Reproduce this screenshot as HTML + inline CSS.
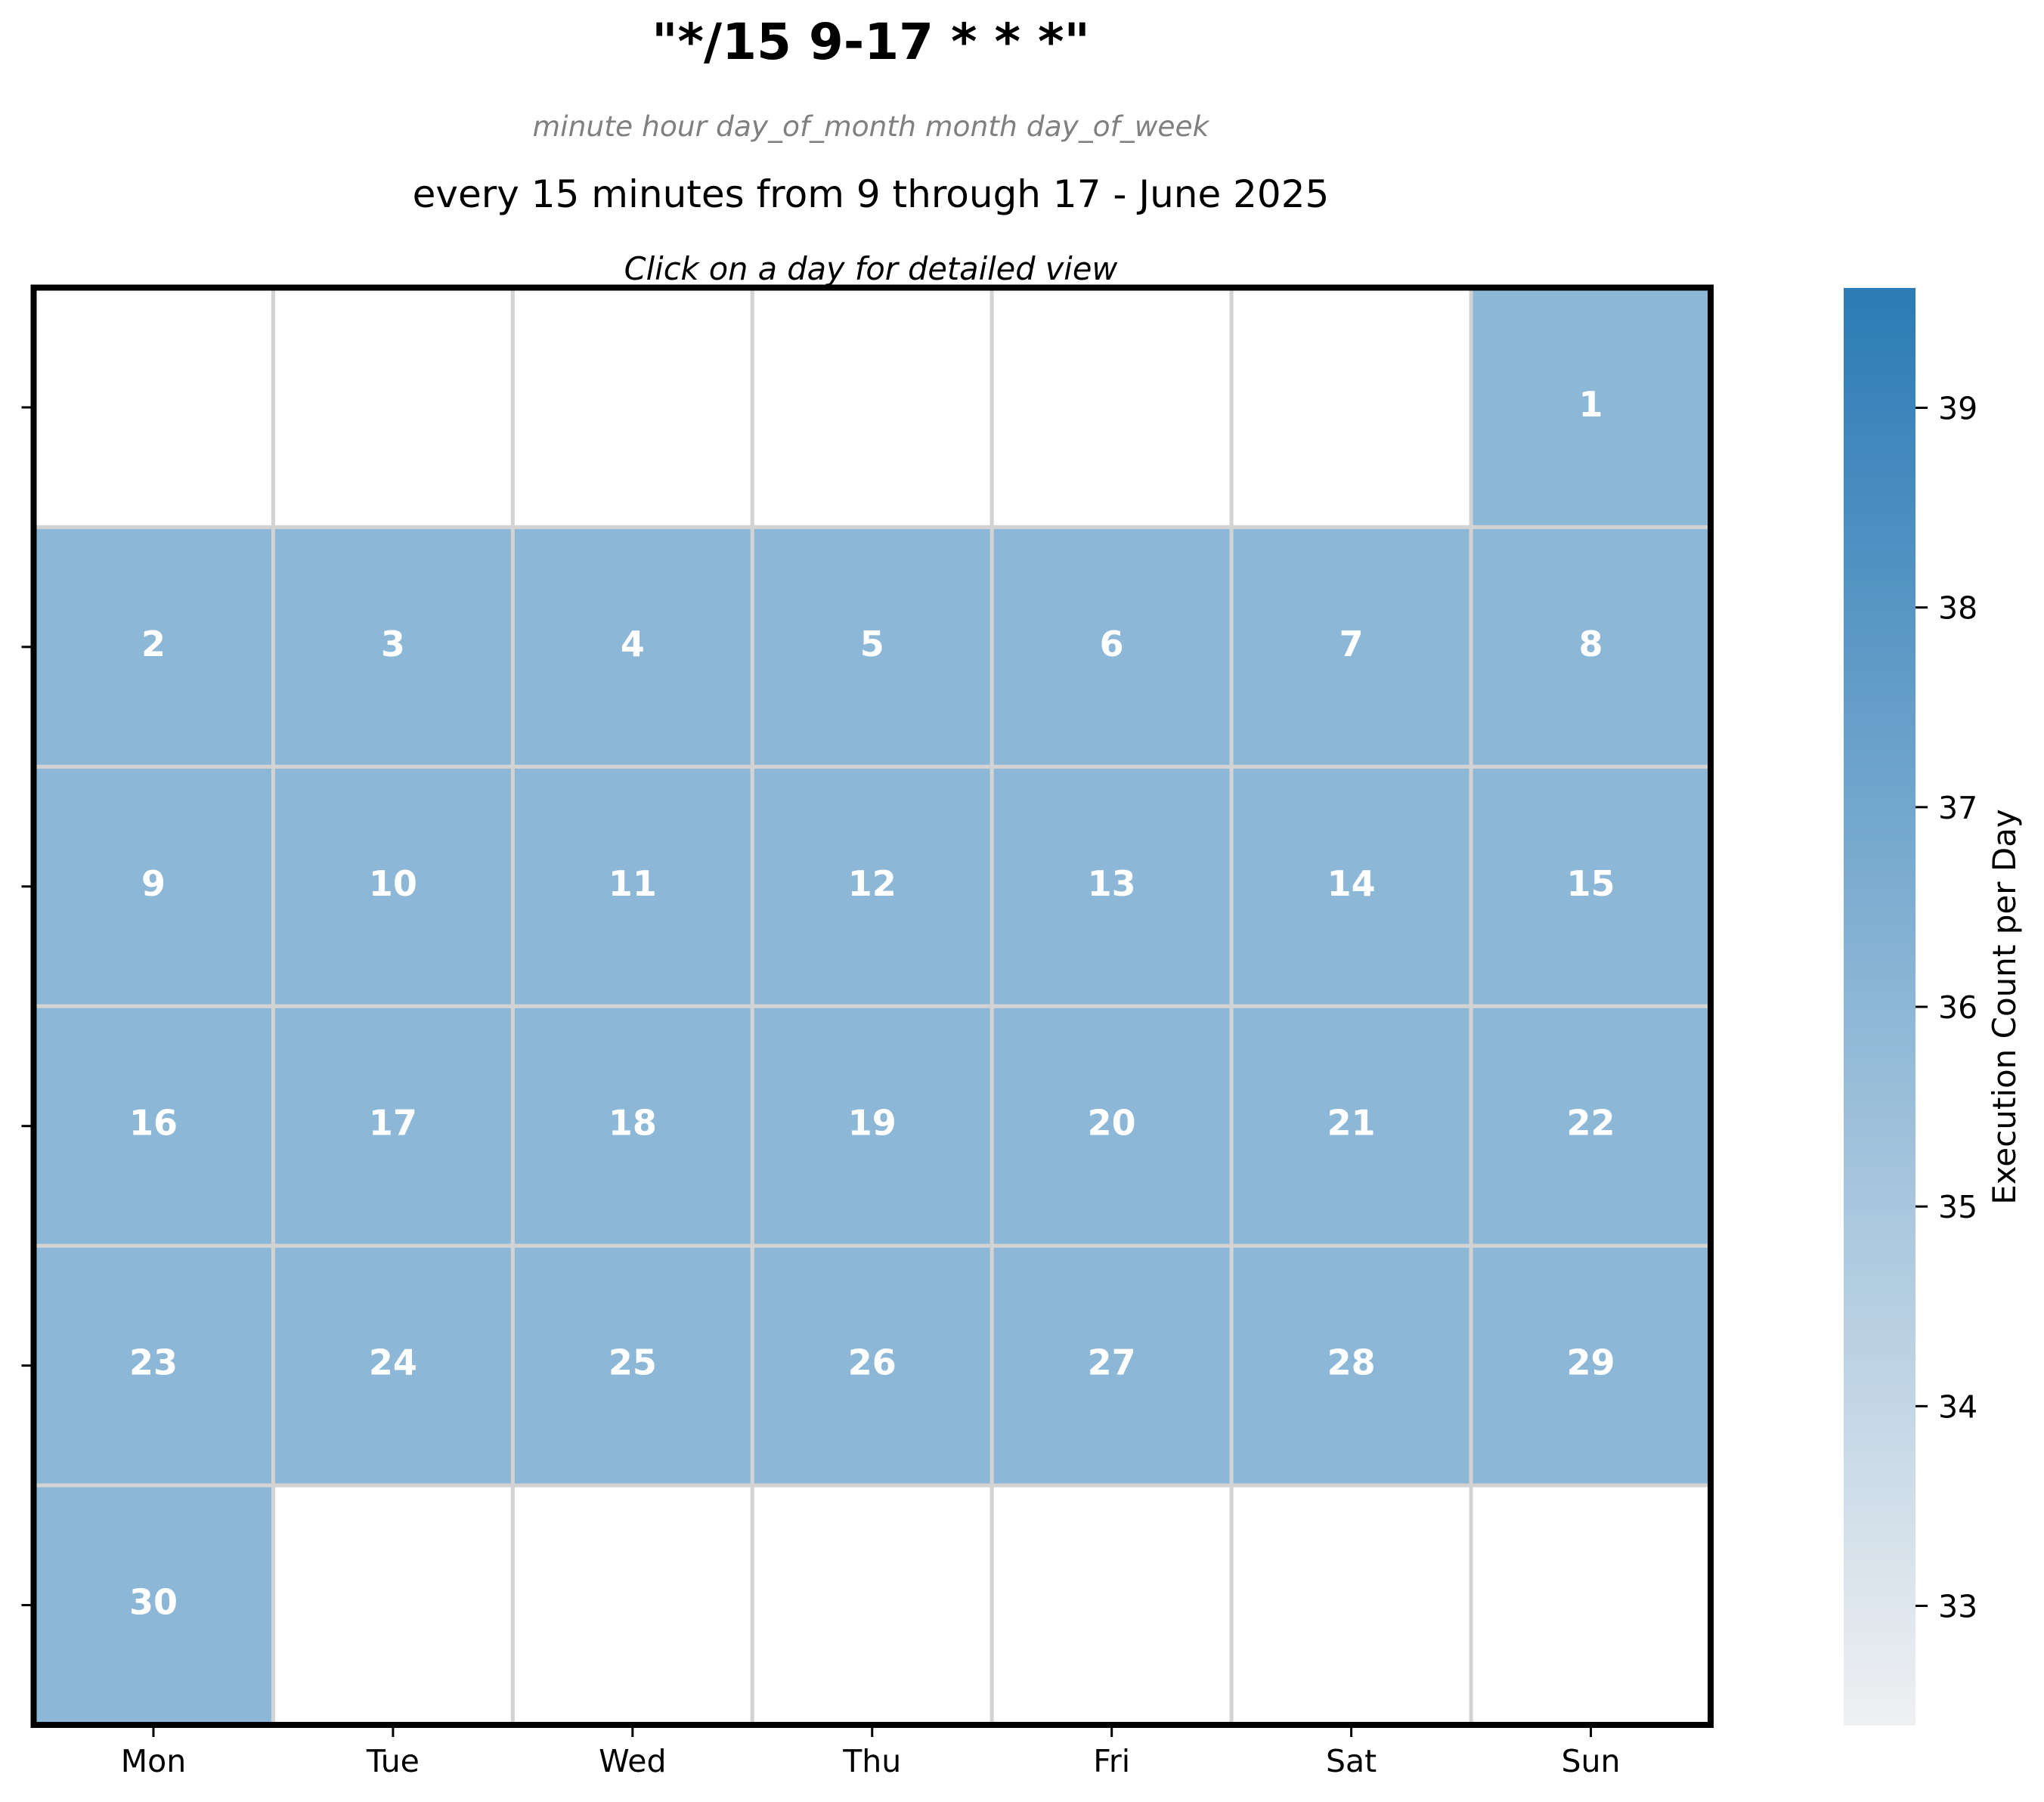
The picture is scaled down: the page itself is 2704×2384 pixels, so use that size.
<!DOCTYPE html>
<html><head><meta charset="utf-8"><style>
html,body{margin:0;padding:0;background:#fff;}
svg{display:block;font-family:"DejaVu Sans","Liberation Sans",sans-serif;}
</style></head><body>
<svg id="chart" width="2704" height="2384" viewBox="0 0 2704 2384" xmlns="http://www.w3.org/2000/svg">
<defs>
<linearGradient id="cbgrad" x1="0" y1="1" x2="0" y2="0">
<stop offset="0" stop-color="#eff0f2"/>
<stop offset="0.5" stop-color="#8db7d6"/>
<stop offset="1" stop-color="#2c7bb6"/>
</linearGradient>
</defs>
<text x="1152" y="78" text-anchor="middle" font-size="66" font-weight="bold" fill="#000">"*/15 9-17 * * *"</text>
<text x="1152" y="180" text-anchor="middle" font-size="37.6" font-style="italic" fill="#808080">minute hour day_of_month month day_of_week</text>
<text x="1152" y="274" text-anchor="middle" font-size="50" fill="#000">every 15 minutes from 9 through 17 - June 2025</text>
<text x="1152" y="370" text-anchor="middle" font-size="41.5" font-style="italic" fill="#000">Click on a day for detailed view</text>
<g id="cells"></g>
<g id="axes"></g>
<rect x="2439" y="381" width="95" height="1902" fill="url(#cbgrad)"/>
<g id="cbticks"></g>
<text transform="translate(2666,1332) rotate(-90)" text-anchor="middle" font-size="42" fill="#000">Execution Count per Day</text>
</svg>
<script>
const weekdays = ["Mon","Tue","Wed","Thu","Fri","Sat","Sun"];
const dayNumbers = [1,2,3,4,5,6,7,8,9,10,11,12,13,14,15,16,17,18,19,20,21,22,23,24,25,26,27,28,29,30];
const dayCounts = [36,36,36,36,36,36,36,36,36,36,36,36,36,36,36,36,36,36,36,36,36,36,36,36,36,36,36,36,36,36];
const firstWeekdayIndex = 6;
const cbTicks = [33,34,35,36,37,38,39];
const cbMin = 32.4, cbMax = 39.6;

const NS = "http://www.w3.org/2000/svg";
const L = 44.5, R = 2263, T = 380.5, B = 2282, nRows = 6;
const cw = (R - L) / 7, ch = (B - T) / nRows;
const xCol = c => L + c * cw;
const yRow = r => T + r * ch;
const cbTop = 381, cbBot = 2283;
const yCb = v => cbBot - (v - cbMin) / (cbMax - cbMin) * (cbBot - cbTop);
function lerp(a,b,t){return Math.round(a+(b-a)*t);}
function color(v){
  const stops=[[0xef,0xf0,0xf2],[0x8d,0xb7,0xd6],[0x2c,0x7b,0xb6]];
  let t=(v-cbMin)/(cbMax-cbMin); t=Math.max(0,Math.min(1,t));
  let s=t<0.5?0:1, u=t<0.5?t*2:(t-0.5)*2;
  const a=stops[s],b=stops[s+1];
  return `rgb(${lerp(a[0],b[0],u)},${lerp(a[1],b[1],u)},${lerp(a[2],b[2],u)})`;
}
function mk(tag, attrs, parent){const e=document.createElementNS(NS,tag);for(const k in attrs)e.setAttribute(k,attrs[k]);parent.appendChild(e);return e;}

const cells = document.getElementById("cells");
for (let r=0;r<nRows;r++) for (let c=0;c<7;c++){
  const rect = mk("rect",{x:xCol(c),y:yRow(r),width:cw,height:ch,fill:"#fff",stroke:"#d3d3d3","stroke-width":5},cells);
  
  
}
dayNumbers.forEach((d,i)=>{
  const pos = firstWeekdayIndex + i;
  const r = Math.floor(pos/7), c = pos%7;
  const rect = mk("rect",{x:xCol(c),y:yRow(r),width:cw,height:ch,fill:color(dayCounts[i]),stroke:"#d3d3d3","stroke-width":5},cells);
  
  
  const t = mk("text",{x:xCol(c)+cw/2,y:yRow(r)+ch/2+12,"text-anchor":"middle","font-size":46,"font-weight":"bold",fill:"#fff"},cells);
  t.textContent = d;
  
  
});

const axes = document.getElementById("axes");
const frame = mk("rect",{x:L,y:T,width:R-L,height:B-T,fill:"none",stroke:"#000","stroke-width":8},axes);


for (let r=0;r<nRows;r++){
  const tk = mk("line",{x1:L-16,x2:L-4,y1:yRow(r)+ch/2,y2:yRow(r)+ch/2,stroke:"#000","stroke-width":3},axes);
  
  
}
weekdays.forEach((w,c)=>{
  const tk = mk("line",{x1:xCol(c)+cw/2,x2:xCol(c)+cw/2,y1:B+4,y2:B+16,stroke:"#000","stroke-width":3},axes);
  
  
  const t = mk("text",{x:xCol(c)+cw/2,y:B+62,"text-anchor":"middle","font-size":41,fill:"#000"},axes);
  t.textContent = w;
  
  
});

const cbt = document.getElementById("cbticks");
cbTicks.forEach(v=>{
  const y = yCb(v);
  const tk = mk("line",{x1:2534,x2:2550,y1:y,y2:y,stroke:"#000","stroke-width":3},cbt);
  
  
  const t = mk("text",{x:2564,y:y+15,"font-size":41,fill:"#000"},cbt);
  t.textContent = v;
  
  
});
</script>
</body></html>
